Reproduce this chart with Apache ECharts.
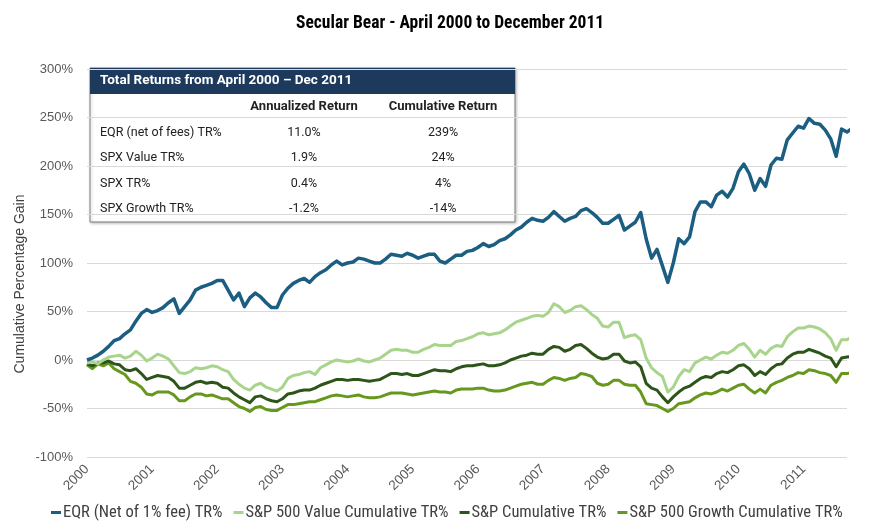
<!DOCTYPE html>
<html>
<head>
<meta charset="utf-8">
<script src="https://cdn.jsdelivr.net/npm/echarts@6/dist/echarts.min.js"></script>
<style>html,body{margin:0;padding:0;background:#fff}#c{width:870px;height:531px}</style>
</head>
<body>
<div id="c"></div>
<script>
const categories = [
'2000-04','2000-05','2000-06','2000-07','2000-08','2000-09','2000-10','2000-11','2000-12',
'2001-01','2001-02','2001-03','2001-04','2001-05','2001-06','2001-07','2001-08','2001-09','2001-10','2001-11','2001-12',
'2002-01','2002-02','2002-03','2002-04','2002-05','2002-06','2002-07','2002-08','2002-09','2002-10','2002-11','2002-12',
'2003-01','2003-02','2003-03','2003-04','2003-05','2003-06','2003-07','2003-08','2003-09','2003-10','2003-11','2003-12',
'2004-01','2004-02','2004-03','2004-04','2004-05','2004-06','2004-07','2004-08','2004-09','2004-10','2004-11','2004-12',
'2005-01','2005-02','2005-03','2005-04','2005-05','2005-06','2005-07','2005-08','2005-09','2005-10','2005-11','2005-12',
'2006-01','2006-02','2006-03','2006-04','2006-05','2006-06','2006-07','2006-08','2006-09','2006-10','2006-11','2006-12',
'2007-01','2007-02','2007-03','2007-04','2007-05','2007-06','2007-07','2007-08','2007-09','2007-10','2007-11','2007-12',
'2008-01','2008-02','2008-03','2008-04','2008-05','2008-06','2008-07','2008-08','2008-09','2008-10','2008-11','2008-12',
'2009-01','2009-02','2009-03','2009-04','2009-05','2009-06','2009-07','2009-08','2009-09','2009-10','2009-11','2009-12',
'2010-01','2010-02','2010-03','2010-04','2010-05','2010-06','2010-07','2010-08','2010-09','2010-10','2010-11','2010-12',
'2011-01','2011-02','2011-03','2011-04','2011-05','2011-06','2011-07','2011-08','2011-09','2011-10','2011-11','2011-12'
];

const seriesNames = ['EQR (Net of 1% fee) TR%','S&P 500 Value Cumulative TR%','S&P Cumulative TR%','S&P 500 Growth Cumulative TR%'];

const eqr = [
0,2,5,9,14,20,22,27,31,40,
48,52,49,51,54,59,63,48,55,62,
72,75,77,79,82,82,72,62,69,55,
64,69,65,59,54,54,67,74,79,82,
84,80,86,90,93,98,102,98,100,101,
105,104,102,100,100,104,109,108,107,110,
108,105,107,109,109,102,100,104,108,108,
112,113,116,120,117,119,123,125,129,134,
137,142,146,144,143,147,153,148,143,146,
148,154,156,152,147,141,141,145,149,134,
138,142,152,125,105,114,97,80,100,125,
120,127,153,163,163,158,170,174,168,177,
194,202,192,175,187,179,201,208,207,227,
234,241,239,249,244,243,237,228,210,238,
235,239];

const spValue = [
-3,-2,-4,0,3,4,5,2,4,9,
5,-1,2,6,4,1,-6,-13,-14,-12,
-8,-9,-8,-6,-7,-10,-12,-20,-25,-29,
-31,-26,-24,-28,-30,-32,-28,-19,-16,-15,
-13,-12,-15,-8,-5,-2,0,-1,-2,-1,
1,-1,-2,0,2,6,10,11,10,10,
8,8,11,13,16,15,15,15,19,20,
22,24,27,28,26,27,28,31,35,39,
41,43,45,46,45,49,58,55,49,51,
55,56,52,47,43,35,34,39,39,23,
25,26,21,2,-8,-13,-17,-33,-28,-17,
-10,-12,-3,0,3,1,5,8,7,10,
15,17,11,3,10,6,12,15,14,24,
29,33,33,35,34,32,28,22,10,21,
21,24];

const sp500 = [
-4,-6,-3,-3,-1,-4,-5,-10,-11,-9,
-14,-20,-18,-16,-17,-18,-22,-29,-29,-26,
-23,-22,-24,-23,-24,-28,-29,-34,-38,-41,
-44,-38,-37,-40,-42,-43,-40,-35,-34,-32,
-31,-31,-29,-26,-24,-22,-20,-20,-21,-20,
-20,-21,-22,-21,-20,-17,-14,-14,-15,-14,
-16,-16,-14,-12,-10,-11,-11,-12,-9,-7,
-6,-6,-5,-4,-6,-6,-5,-3,0,2,
4,5,7,6,6,11,14,13,9,11,
15,16,12,7,3,1,2,6,6,-1,
-3,-2,-7,-24,-29,-31,-38,-44,-38,-33,
-29,-27,-23,-19,-17,-18,-14,-12,-13,-10,
-6,-5,-9,-16,-12,-15,-9,-5,-4,2,
6,8,8,11,9,7,4,2,-7,2,
3,4];

const spGrowth = [
-5,-9,-4,-6,-3,-9,-12,-15,-22,-24,
-28,-35,-36,-33,-33,-33,-36,-42,-42,-38,
-35,-35,-37,-36,-38,-40,-40,-44,-48,-50,
-53,-49,-48,-51,-52,-52,-49,-46,-46,-45,
-44,-43,-43,-41,-39,-37,-36,-37,-38,-37,
-36,-38,-39,-39,-38,-36,-34,-34,-34,-35,
-36,-35,-34,-33,-32,-33,-33,-34,-31,-30,
-30,-30,-29,-29,-31,-32,-32,-31,-29,-27,
-25,-24,-23,-25,-25,-21,-18,-19,-21,-19,
-18,-14,-15,-17,-24,-26,-25,-21,-21,-25,
-26,-26,-33,-45,-46,-47,-50,-53,-50,-45,
-44,-43,-39,-36,-34,-35,-33,-30,-32,-29,
-26,-25,-30,-34,-30,-34,-26,-23,-21,-18,
-16,-13,-14,-10,-11,-13,-14,-16,-23,-14,
-14,-13];

const yTicks = [-100,-50,0,50,100,150,200,250,300];

const tableTitle = 'Total Returns from April 2000 \u2013 Dec 2011';
const tableColumns = ['Annualized Return','Cumulative Return'];
const tableRows = ['EQR (net of fees) TR%','SPX Value TR%','SPX TR%','SPX Growth TR%'];
const tableAnnualized = ['11.0%','1.9%','0.4%','-1.2%'];
const tableCumulative = ['239%','24%','4%','-14%'];

const colors = ['#1B5E82','#A9D48C','#2D5419','#67981E'];
const narrow = '"Liberation Sans Narrow","Arial Narrow","Roboto Condensed",sans-serif';
const tfont = 'Roboto, "Open Sans", sans-serif';

const chart = echarts.init(document.getElementById('c'), null, {renderer:'canvas'});

const tableEls = [];
const box = {x:90, y:68, w:425, h:154};
tableEls.push({type:'rect', shape:{x:box.x, y:box.y, width:box.w, height:box.h}, style:{fill:'#fff', stroke:'#7F7F7F', lineWidth:1, shadowBlur:3, shadowColor:'rgba(0,0,0,0.25)', shadowOffsetX:1, shadowOffsetY:1}});
tableEls.push({type:'rect', shape:{x:box.x, y:box.y, width:box.w, height:26}, style:{fill:'#1D3A5C'}});
tableEls.push({type:'text', x:100, y:box.y+13, style:{text:tableTitle, fill:'#fff', font:'bold 13.5px ' + tfont, verticalAlign:'middle'}});
const colX = [304, 443];
tableColumns.forEach((c,i)=>tableEls.push({type:'text', x:colX[i], y:107, style:{text:c, fill:'#222', font:'bold 13px ' + tfont, align:'center', verticalAlign:'middle'}}));
const rowY = [133,158,184,209];
tableRows.forEach((r,i)=>{
  tableEls.push({type:'text', x:100, y:rowY[i], style:{text:r, fill:'#222', font:'12.5px ' + tfont, verticalAlign:'middle'}});
  tableEls.push({type:'text', x:colX[0], y:rowY[i], style:{text:tableAnnualized[i], fill:'#222', font:'12.5px ' + tfont, align:'center', verticalAlign:'middle'}});
  tableEls.push({type:'text', x:colX[1], y:rowY[i], style:{text:tableCumulative[i], fill:'#222', font:'12.5px ' + tfont, align:'center', verticalAlign:'middle'}});
});

const dataSets = [eqr, spValue, sp500, spGrowth];
const widths = [3.5, 3, 3, 3];

chart.setOption({
  animation:false,
  title:{text:'Secular Bear - April 2000 to December 2011', left:291, top:10,
    textStyle:{fontFamily:narrow, fontWeight:'bold', fontSize:17.5, color:'#000'}},
  grid:{left:87, right:23, top:69, bottom:74, containLabel:false},
  legend:{bottom:5, left:46, itemGap:11, itemWidth:10, itemHeight:3, icon:'rect',
    textStyle:{fontFamily:narrow, fontSize:16.5, color:'#404040', padding:[0,0,0,-3]},
    data:seriesNames},
  xAxis:{type:'category', data:categories, boundaryGap:false,
    axisLine:{show:false}, axisTick:{show:false},
    axisLabel:{interval:(idx)=>idx%12===0, formatter:(v)=>v.slice(0,4), rotate:45, margin:10,
      color:'#595959', fontSize:13.5, fontFamily:'"Liberation Sans",Arial,sans-serif'}},
  yAxis:{type:'value', min:yTicks[0], max:yTicks[yTicks.length-1], interval:50,
    axisLine:{show:false}, axisTick:{show:false},
    splitLine:{lineStyle:{color:'#D9D9D9', width:1}},
    axisLabel:{formatter:'{value}%', color:'#595959', fontSize:13, margin:14, fontFamily:'"Liberation Sans",Arial,sans-serif'}},
  graphic:[
    {type:'text', x:20, y:284, rotation:Math.PI/2, style:{text:'Cumulative Percentage Gain', fill:'#404040', font:'14px "Liberation Sans",Arial,sans-serif', align:'center', verticalAlign:'middle'}, z:10},
    {type:'group', z:100, children:tableEls}
  ],
  series: seriesNames.map((n,i)=>({
    name:n, type:'line', data:dataSets[i], showSymbol:false, symbol:'none',
    lineStyle:{color:colors[i], width:widths[i], join:'round'}, itemStyle:{color:colors[i]},
    z: i===0 ? 5 : 4-i
  }))
});
</script>
</body>
</html>
